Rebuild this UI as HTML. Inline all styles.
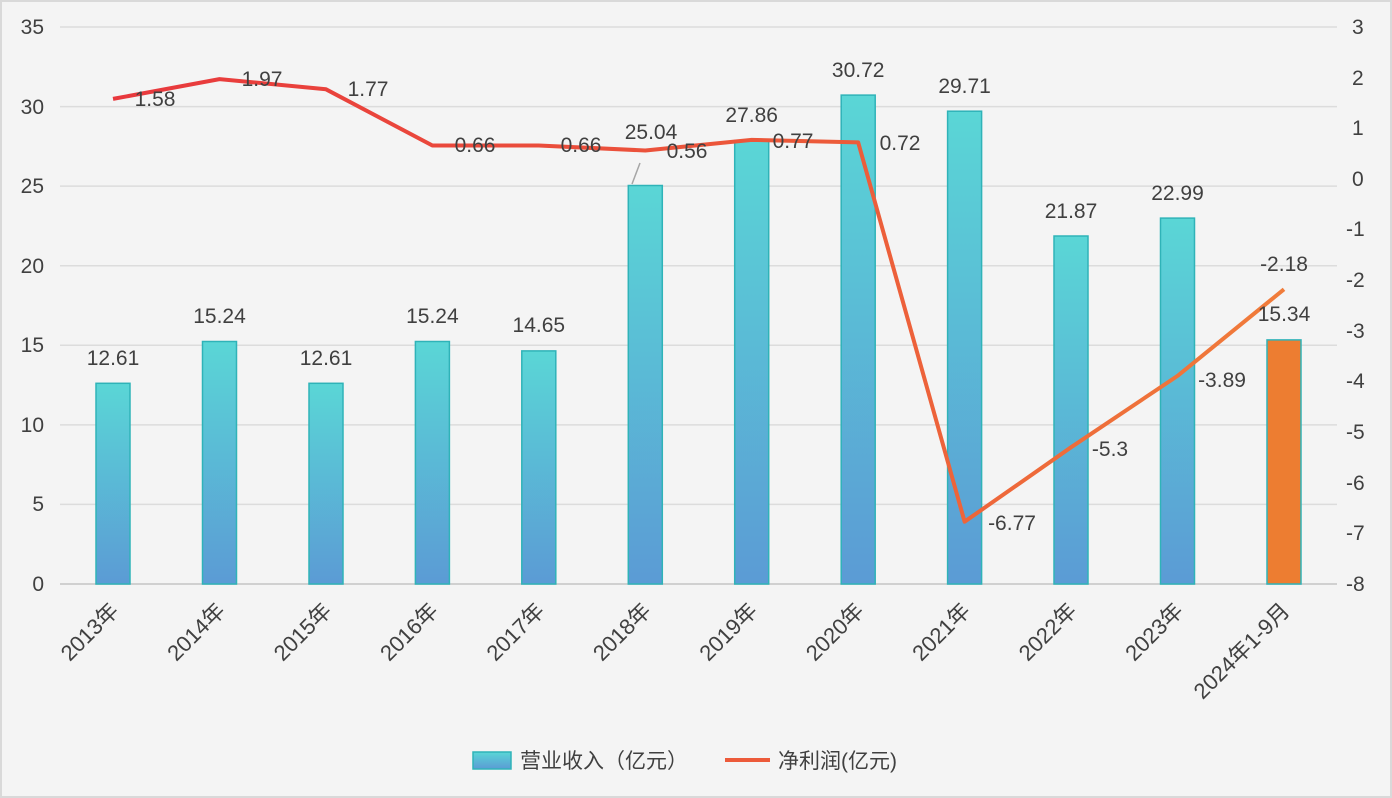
<!DOCTYPE html><html><head><meta charset="utf-8"><style>body{margin:0;background:#fff}svg{display:block}text{font-family:"Liberation Sans","Noto Sans CJK SC",sans-serif;fill:#404040}</style></head><body>
<svg width="1392" height="798" viewBox="0 0 1392 798">
<defs>
<linearGradient id="bg" x1="0" y1="0" x2="0" y2="1"><stop offset="0" stop-color="#5ad6d6"/><stop offset="1" stop-color="#5b9bd5"/></linearGradient>
<linearGradient id="ln" x1="0" y1="0" x2="1" y2="0"><stop offset="0" stop-color="#e8383d"/><stop offset="0.6" stop-color="#ec5a3a"/><stop offset="1" stop-color="#f07c3a"/></linearGradient>
</defs>
<rect x="1" y="1" width="1390" height="796" fill="#f4f4f4" stroke="#d9d9d9" stroke-width="2"/>
<g stroke="#dcdcdc" stroke-width="1.5">
<line x1="60" x2="1337" y1="27" y2="27"/><line x1="60" x2="1337" y1="106.6" y2="106.6"/><line x1="60" x2="1337" y1="186.1" y2="186.1"/><line x1="60" x2="1337" y1="265.7" y2="265.7"/><line x1="60" x2="1337" y1="345.3" y2="345.3"/><line x1="60" x2="1337" y1="424.9" y2="424.9"/><line x1="60" x2="1337" y1="504.4" y2="504.4"/>
</g>
<line x1="60" x2="1337" y1="584" y2="584" stroke="#d0d0d0" stroke-width="2"/>
<g font-size="21" text-anchor="end">
<text x="44" y="34">35</text><text x="44" y="114">30</text><text x="44" y="193">25</text><text x="44" y="273">20</text><text x="44" y="352">15</text><text x="44" y="432">10</text><text x="44" y="511">5</text><text x="44" y="591">0</text>
</g>
<g font-size="21" text-anchor="start">
<text x="1352" y="34">3</text><text x="1352" y="85">2</text><text x="1352" y="135">1</text><text x="1352" y="186">0</text><text x="1346" y="236">-1</text><text x="1346" y="287">-2</text><text x="1346" y="338">-3</text><text x="1346" y="388">-4</text><text x="1346" y="439">-5</text><text x="1346" y="490">-6</text><text x="1346" y="540">-7</text><text x="1346" y="591">-8</text>
</g>
<g stroke="#2fb3b8" stroke-width="1.5" fill="url(#bg)">
<rect x="96" y="383.3" width="34" height="200.7"/>
<rect x="202.5" y="341.5" width="34" height="242.5"/>
<rect x="309" y="383.3" width="34" height="200.7"/>
<rect x="415.4" y="341.5" width="34" height="242.5"/>
<rect x="521.8" y="350.9" width="34" height="233.1"/>
<rect x="628.3" y="185.5" width="34" height="398.5"/>
<rect x="734.7" y="140.6" width="34" height="443.4"/>
<rect x="841.2" y="95.1" width="34" height="488.9"/>
<rect x="947.6" y="111.2" width="34" height="472.8"/>
<rect x="1054" y="236" width="34" height="348"/>
<rect x="1160.5" y="218.1" width="34" height="365.9"/>
<rect x="1267" y="339.9" width="34" height="244.1" fill="#ed7d31"/>
</g>
<line x1="640" y1="163" x2="632" y2="184" stroke="#a6a6a6" stroke-width="1.5"/>
<polyline fill="none" stroke="url(#ln)" stroke-width="4" stroke-linejoin="round" points="113,98.9 219.5,79.1 326,89.3 432.4,145.5 538.8,145.5 645.3,150.5 751.7,139.9 858.2,142.4 964.6,521.7 1071,447.3 1177.5,375.9 1284,289.3"/>
<g font-size="21" text-anchor="middle">
<text x="113" y="365">12.61</text><text x="219.5" y="323">15.24</text><text x="326" y="365">12.61</text><text x="432.4" y="323">15.24</text><text x="538.8" y="332">14.65</text><text x="651" y="139">25.04</text><text x="751.7" y="122">27.86</text><text x="858.2" y="77">30.72</text><text x="964.6" y="93">29.71</text><text x="1071" y="218">21.87</text><text x="1177.5" y="200">22.99</text><text x="1284" y="321">15.34</text>
<text x="155" y="106">1.58</text><text x="262" y="86">1.97</text><text x="368" y="96">1.77</text><text x="475" y="152">0.66</text><text x="581" y="152">0.66</text><text x="687" y="158">0.56</text><text x="793" y="148">0.77</text><text x="900" y="150">0.72</text><text x="1012" y="530">-6.77</text><text x="1110" y="456">-5.3</text><text x="1222" y="387">-3.89</text><text x="1284" y="271">-2.18</text>
</g>
<g font-size="22" text-anchor="end">
<text transform="translate(120,612) rotate(-45)">2013年</text>
<text transform="translate(226.5,612) rotate(-45)">2014年</text>
<text transform="translate(333,612) rotate(-45)">2015年</text>
<text transform="translate(439.4,612) rotate(-45)">2016年</text>
<text transform="translate(545.8,612) rotate(-45)">2017年</text>
<text transform="translate(652.3,612) rotate(-45)">2018年</text>
<text transform="translate(758.7,612) rotate(-45)">2019年</text>
<text transform="translate(865.2,612) rotate(-45)">2020年</text>
<text transform="translate(971.6,612) rotate(-45)">2021年</text>
<text transform="translate(1078,612) rotate(-45)">2022年</text>
<text transform="translate(1184.5,612) rotate(-45)">2023年</text>
<text transform="translate(1291,612) rotate(-45)">2024年1-9月</text>
</g>
<rect x="473" y="752" width="38" height="17" fill="url(#bg)" stroke="#2fb3b8" stroke-width="1.5"/>
<text x="520" y="768" font-size="21">营业收入（亿元）</text>
<line x1="725" x2="770" y1="760" y2="760" stroke="#ec5a3a" stroke-width="4"/>
<text x="778" y="768" font-size="21">净利润(亿元)</text>
</svg>
</body></html>
